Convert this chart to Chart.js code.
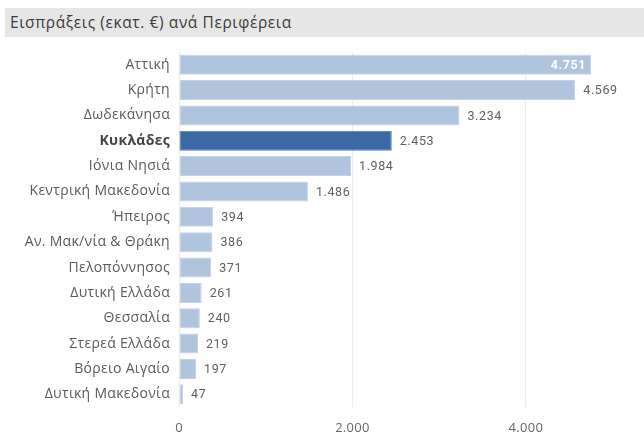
<!DOCTYPE html>
<html lang="el">
<head>
<meta charset="utf-8">
<script src="https://cdn.jsdelivr.net/npm/chart.js@4/dist/chart.umd.min.js"></script>
<style>
  html, body { margin: 0; padding: 0; background: #fff; }
  #wrap { position: relative; width: 644px; height: 435px; }
  #title {
    position: absolute; left: 5px; top: 8px; width: 639px; height: 29px;
    background: #e6e6e6; color: #3c3c3c;
    font: 15.5px "Open Sans", "Noto Sans", sans-serif; line-height: 29px;
    letter-spacing: 0.6px;
    padding-left: 5px; box-sizing: border-box;
  }
  canvas { position: absolute; left: 0; top: 0; }
</style>
</head>
<body>
<div id="wrap">
  <div id="title">Εισπράξεις (εκατ. €) ανά Περιφέρεια</div>
  <canvas id="c" width="644" height="435"></canvas>
</div>
<script>
// Regions and receipts (million €)
const regions = [
  'Αττική', 'Κρήτη', 'Δωδεκάνησα', 'Κυκλάδες', 'Ιόνια Νησιά',
  'Κεντρική Μακεδονία', 'Ήπειρος', 'Αν. Μακ/νία & Θράκη', 'Πελοπόννησος',
  'Δυτική Ελλάδα', 'Θεσσαλία', 'Στερεά Ελλάδα', 'Βόρειο Αιγαίο', 'Δυτική Μακεδονία'
];
const receipts = [4751, 4569, 3234, 2453, 1984, 1486, 394, 386, 371, 261, 240, 219, 197, 47];
const highlighted = ['Κυκλάδες'];
const xTicks = [0, 2000, 4000];

const BAR = '#b0c4de';
const BAR_HI = '#3a69a5';

const fmt = v => String(Math.round(v)).replace(/\B(?=(\d{3})+(?!\d))/g, '.');

// Slightly open letter spacing for all canvas text
const spacing = {
  id: 'spacing',
  beforeInit(chart) { chart.ctx.letterSpacing = '0.3px'; },
  beforeDraw(chart) { chart.ctx.letterSpacing = '0.3px'; }
};

// Value labels at the end of each bar (inside the longest one)
const valueLabels = {
  id: 'valueLabels',
  afterDatasetsDraw(chart) {
    const ctx = chart.ctx;
    const meta = chart.getDatasetMeta(0);
    const maxVal = Math.max(...receipts);
    ctx.save();
    ctx.letterSpacing = '0.6px';
    ctx.textBaseline = 'middle';
    meta.data.forEach((bar, i) => {
      const v = receipts[i];
      if (v === maxVal) {
        ctx.font = 'bold 12.5px Roboto, "DejaVu Sans", sans-serif';
        ctx.fillStyle = '#ffffff';
        ctx.textAlign = 'right';
        ctx.fillText(fmt(v), bar.x - 5, bar.y + 1);
      } else {
        ctx.font = '12.5px Roboto, "DejaVu Sans", sans-serif';
        ctx.fillStyle = '#606060';
        ctx.textAlign = 'left';
        ctx.fillText(fmt(v), bar.x + 8, bar.y + 1);
      }
    });
    ctx.restore();
  }
};

new Chart(document.getElementById('c'), {
  type: 'bar',
  data: {
    labels: regions,
    datasets: [{
      data: receipts,
      backgroundColor: regions.map(r => highlighted.includes(r) ? BAR_HI : BAR),
      borderColor: regions.map(r => highlighted.includes(r) ? '#4f7bb3' : '#c2d1e6'),
      borderWidth: 1,
      borderSkipped: false,
      barPercentage: 0.79,
      categoryPercentage: 1.0
    }]
  },
  options: {
    indexAxis: 'y',
    responsive: false,
    animation: false,
    devicePixelRatio: 1,
    layout: { padding: { top: 52, right: 14, bottom: 0, left: 0 } },
    plugins: { legend: { display: false }, tooltip: { enabled: false } },
    scales: {
      x: {
        min: 0,
        max: 5200,
        afterBuildTicks: s => { s.ticks = xTicks.map(v => ({ value: v })); },
        afterFit: s => { s.height = 28; },
        grid: { color: '#ececec', lineWidth: 1, drawTicks: false },
        border: { display: false },
        ticks: {
          padding: 13,
          color: '#666666',
          font: { family: '"Open Sans", "Noto Sans", sans-serif', size: 13 },
          callback: v => fmt(v)
        }
      },
      y: {
        afterFit: s => { s.width = 179; },
        grid: { display: false, drawTicks: false },
        border: { display: false },
        ticks: {
          padding: 9,
          color: ctx => highlighted.includes(regions[ctx.index]) ? '#444444' : '#5a5a5a',
          font: ctx => ({
            family: '"Open Sans", "Noto Sans", sans-serif',
            size: 14,
            weight: highlighted.includes(regions[ctx.index]) ? 'bold' : 'normal'
          })
        }
      }
    }
  },
  plugins: [spacing, valueLabels]
});
</script>
</body>
</html>
